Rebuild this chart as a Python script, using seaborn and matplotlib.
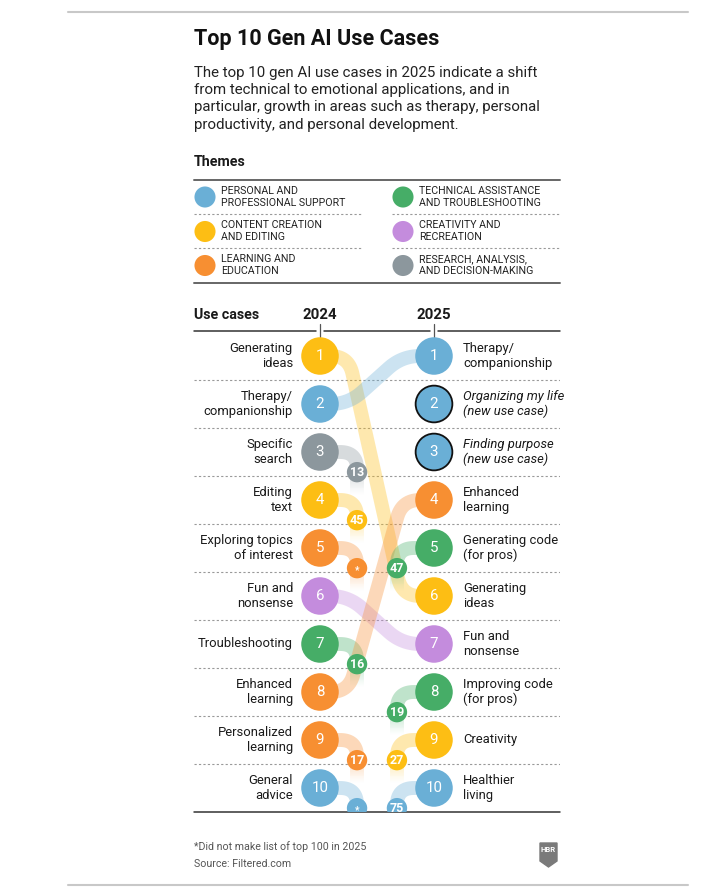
import numpy as np
import pandas as pd
import seaborn as sns
import matplotlib.pyplot as plt
from matplotlib import font_manager
from matplotlib.collections import LineCollection
from matplotlib.colors import to_rgba
from matplotlib.patches import Polygon

# theme colours
theme_keys = ["support", "content", "learning", "technical", "creativity", "research"]
theme_names = ["PERSONAL AND\nPROFESSIONAL SUPPORT", "CONTENT CREATION\nAND EDITING",
               "LEARNING AND\nEDUCATION", "TECHNICAL ASSISTANCE\nAND TROUBLESHOOTING",
               "CREATIVITY AND\nRECREATION", "RESEARCH, ANALYSIS,\nAND DECISION-MAKING"]
theme_colors = ["#6AAFD6", "#FDBE14", "#F78F32", "#46AD67", "#C48CDD", "#8C979D"]
pal = dict(zip(theme_keys, theme_colors))

# 2024 top 10 and where they landed in 2025 (None = not in top 100)
cases_2024 = ["Generating\nideas", "Therapy/\ncompanionship", "Specific\nsearch", "Editing\ntext",
              "Exploring topics\nof interest", "Fun and\nnonsense", "Troubleshooting",
              "Enhanced\nlearning", "Personalized\nlearning", "General\nadvice"]
theme_2024 = ["content", "support", "research", "content", "learning", "creativity",
              "technical", "learning", "learning", "support"]
rank25_of_24 = [6, 1, 13, 45, None, 7, 16, 4, 17, None]

# 2025 top 10 and their 2024 rank ("new" = new use case)
cases_2025 = ["Therapy/\ncompanionship", "Organizing my life\n(new use case)",
              "Finding purpose\n(new use case)", "Enhanced\nlearning", "Generating code\n(for pros)",
              "Generating\nideas", "Fun and\nnonsense", "Improving code\n(for pros)", "Creativity",
              "Healthier\nliving"]
theme_2025 = ["support", "support", "support", "learning", "technical", "content",
              "creativity", "technical", "content", "support"]
rank24_of_25 = [2, "new", "new", 8, 47, 1, 6, 19, 27, 75]

ranks = list(range(1, 11))

avail = {f.name for f in font_manager.fontManager.ttflist}
narrow = "Liberation Sans Narrow" if "Liberation Sans Narrow" in avail else "Roboto"

sns.set_theme(style="white")
plt.rcParams["font.family"] = ["Roboto", "DejaVu Sans"]

fig = plt.figure(figsize=(7.25, 8.94), dpi=100)
bg = fig.add_axes([0, 0, 1, 1])
bg.set_xlim(0, 725)
bg.set_ylim(894, 0)
bg.axis("off")

TXT = "#1a1a1a"

# frame lines
bg.plot([68, 688], [12, 12], color="#c8c8c8", lw=1.5)
bg.plot([68, 688], [885, 885], color="#c8c8c8", lw=1.5)

bg.text(194, 45, "Top 10 Gen AI Use Cases", fontsize=15.5, fontweight="bold", color="#111", va="baseline")
sub = ["The top 10 gen AI use cases in 2025 indicate a shift",
       "from technical to emotional applications, and in",
       "particular, growth in areas such as therapy, personal",
       "productivity, and personal development."]
for i, line in enumerate(sub):
    bg.text(194, 77 + i * 17.2, line, fontsize=10.8, color="#222", va="baseline")

# themes legend
bg.text(194, 162, "Themes", fontsize=10.3, fontweight="bold", color=TXT, va="center")
bg.plot([194, 560], [180, 180], color="#666", lw=1.4)
bg.plot([194, 560], [283, 283], color="#666", lw=1.4)
for yy in [214, 248]:
    bg.plot([194, 362], [yy, yy], color="#999", lw=0.8, ls=(0, (2, 2)))
    bg.plot([392, 560], [yy, yy], color="#999", lw=0.8, ls=(0, (2, 2)))
leg = pd.DataFrame({
    "theme": theme_keys,
    "x": [205, 205, 205, 403, 403, 403],
    "y": [197, 231.5, 265.5, 197, 231.5, 265.5],
})
sns.scatterplot(data=leg, x="x", y="y", hue="theme", palette=pal, s=230, edgecolor="none",
                legend=False, ax=bg, zorder=3)
for (_, r), name in zip(leg.iterrows(), theme_names):
    bg.text(r["x"] + 16, r["y"], name, fontsize=7.7, family=narrow, color="#222",
            va="center", linespacing=1.25)

# bump chart axes: x = column (0 = 2024, 1 = 2025), y = rank
SX, SY = 114.0, 48.0
ax = fig.add_axes([194 / 725, 1 - 812 / 894, 366 / 725, 480 / 894])
ax.set_xlim(-126 / SX, 240 / SX)
ax.set_ylim(10.5, 0.5)
ax.axis("off")

bg.text(194, 315, "Use cases", fontsize=10.3, fontweight="bold", color=TXT, va="center")
bg.text(320, 315, "2024", fontsize=10.8, fontweight="bold", color=TXT, va="center", ha="center")
bg.text(434, 315, "2025", fontsize=10.8, fontweight="bold", color=TXT, va="center", ha="center")
for a, b in [(194, 316), (324, 430), (438, 560)]:
    bg.plot([a, b], [331, 331], color="#333", lw=1.1)
for xx in [320, 434]:
    bg.plot([xx, xx], [324, 337], color="#555", lw=0.9)
bg.plot([194, 560], [812, 812], color="#333", lw=1.1)

for r in ranks[:-1]:
    ax.plot([-126 / SX, 240 / SX], [r + 0.5, r + 0.5], color="#999", lw=0.8, ls=(0, (2, 2)), zorder=0.5)


def rounded(pts, rad=14, n=20):
    P = np.array(pts, float) * [SX, SY]
    out = [P[0]]
    last = len(P) - 1
    for i in range(1, last):
        a, b, c = P[i - 1], P[i], P[i + 1]
        la, lc = np.linalg.norm(a - b), np.linalg.norm(c - b)
        ma = la if i - 1 == 0 else la / 2
        mc = lc if i + 1 == last else lc / 2
        rr = min(rad, ma, mc)
        p1 = b + (a - b) / la * rr
        p2 = b + (c - b) / lc * rr
        t = np.linspace(0, 1, n)[:, None]
        out.extend((1 - t) ** 2 * p1 + 2 * (1 - t) * t * b + t ** 2 * p2)
    out.append(P[-1])
    out = np.array(out) / [SX, SY]
    return out[:, 0], out[:, 1]


BAND_A = 0.34
BAND_LW = 10


def band(pts, color, rad=14):
    xs, ys = rounded(pts, rad)
    ax.plot(xs, ys, color=color, alpha=BAND_A, lw=BAND_LW, solid_capstyle="butt",
            solid_joinstyle="round", zorder=1)


def tail(x, y0, y1, color, n=24):
    ys = np.linspace(y0, y1, n + 1)
    segs = [[(x, ys[i]), (x, ys[i + 1])] for i in range(n)]
    cols = [to_rgba(color, BAND_A * (1 - (i + 0.5) / n) ** 1.2) for i in range(n)]
    ax.add_collection(LineCollection(segs, colors=cols, linewidths=BAND_LW, capstyle="butt", zorder=1))


XA, XB = 0.25, 0.72          # diagonal ends for moving items
XD, XN = 0.325, 0.675        # drop-out / newcomer stems
DOT, END = 0.42, 0.9

small = []
for r, th, r25 in zip(ranks, theme_2024, rank25_of_24):
    col = pal[th]
    if r25 is not None and r25 <= 10:
        band([(0, r), (XA, r), (XB, r25), (1, r25)], col, rad=18)
    else:
        band([(0, r), (XD, r), (XD, r + DOT)], col, rad=17)
        tail(XD, r + DOT, r + END, col)
        small.append((XD, r + DOT, th, "*" if r25 is None else str(r25)))

for r, th, r24 in zip(ranks, theme_2025, rank24_of_25):
    col = pal[th]
    if r24 != "new" and r24 > 10:
        band([(XN, r + DOT), (XN, r), (1, r)], col, rad=17)
        tail(XN, r + DOT, r + END, col)
        small.append((XN, r + DOT, th, str(r24)))

# big circles
d24 = pd.DataFrame({"col": 0, "rank": ranks, "theme": theme_2024})
d25 = pd.DataFrame({"col": 1, "rank": ranks, "theme": theme_2025, "new": [v == "new" for v in rank24_of_25]})
sns.scatterplot(data=d24, x="col", y="rank", hue="theme", palette=pal, s=730, edgecolor="none",
                legend=False, ax=ax, zorder=3)
sns.scatterplot(data=d25[~d25["new"]], x="col", y="rank", hue="theme", palette=pal, s=730,
                edgecolor="none", legend=False, ax=ax, zorder=3)
sns.scatterplot(data=d25[d25["new"]], x="col", y="rank", hue="theme", palette=pal, s=700,
                edgecolor="#111", linewidth=1.3, legend=False, ax=ax, zorder=3)

ds = pd.DataFrame(small, columns=["x", "y", "theme", "label"])
sns.scatterplot(data=ds, x="x", y="y", hue="theme", palette=pal, s=215, edgecolor="none",
                legend=False, ax=ax, zorder=4)
for _, s in ds.iterrows():
    star = s["label"] == "*"
    ax.text(s["x"], s["y"] + (0.05 if star else 0), s["label"], color="white",
            fontsize=7 if star else 9, fontweight="bold",
            ha="center", va="center", zorder=5)

for r in ranks:
    ax.text(0, r, str(r), color="white", fontsize=10.8, ha="center", va="center", zorder=5)
    ax.text(1, r, str(r), color="white", fontsize=10.8, ha="center", va="center", zorder=5)

for r, lab in zip(ranks, cases_2024):
    ax.text(-27 / SX, r, lab, fontsize=9.4, color=TXT, ha="right", va="center", linespacing=1.15)
for r, lab, r24 in zip(ranks, cases_2025, rank24_of_25):
    ax.text(143 / SX, r, lab, fontsize=9.4, color=TXT, ha="left", va="center", linespacing=1.15,
            style="italic" if r24 == "new" else "normal")

# footnote / source
bg.text(194, 847, "*Did not make list of top 100 in 2025", fontsize=7.7, color="#555", va="center")
bg.text(194, 864, "Source: Filtered.com", fontsize=7.7, color="#555", va="center")

# HBR logo
bg.add_patch(Polygon([(540, 843), (557, 843), (557, 861), (548.5, 867), (540, 861)],
                     closed=True, color="#7a7a7a"))
bg.text(548.5, 850, "HBR", fontsize=5.5, fontweight="bold", color="white", ha="center", va="center")

fig.savefig("out.png", dpi=100)
